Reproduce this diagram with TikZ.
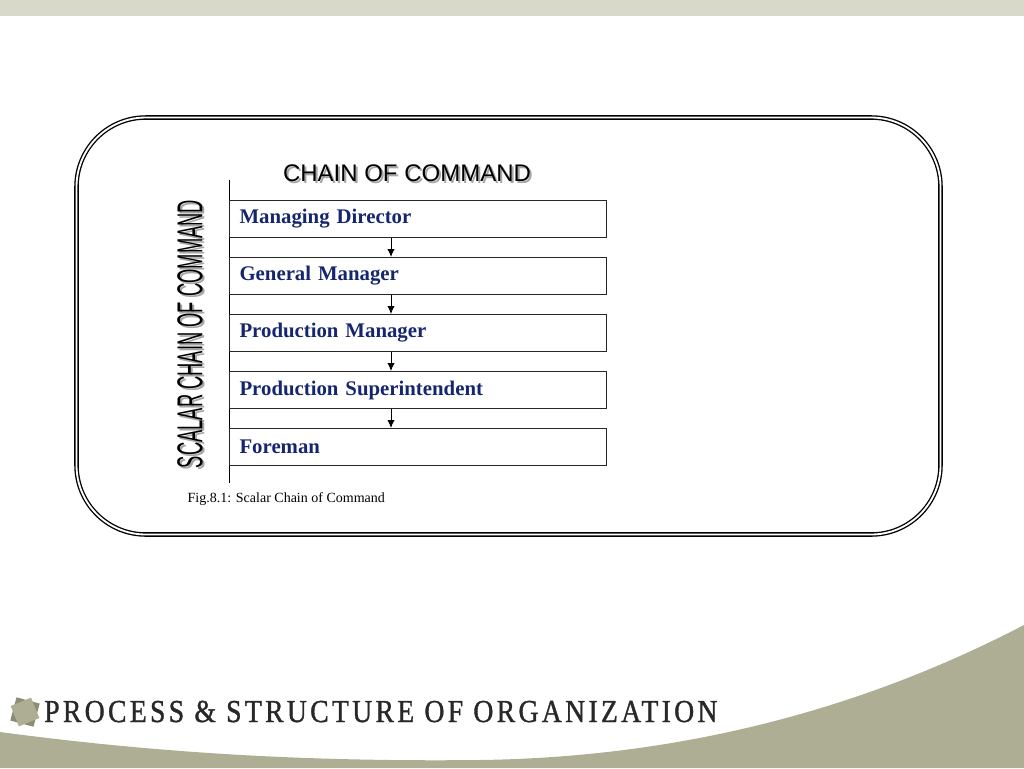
\documentclass[tikz,border=0pt]{standalone}
\usepackage{fontspec}
\setmainfont{Liberation Serif}
\setsansfont{Liberation Sans}
\newfontfamily\bannerfont[LetterSpace=12,FakeBold=1.2]{Liberation Serif}
\usepackage{tikz}
\usetikzlibrary{arrows.meta}

\definecolor{bandgrey}{RGB}{216,217,201}
\definecolor{olivegrey}{RGB}{173,174,148}
\definecolor{icondark}{RGB}{140,141,118}
\definecolor{chainblue}{RGB}{22,38,110}
\definecolor{bannertext}{RGB}{40,40,42}

\tikzset{
  rank/.style={draw=black!85, line width=0.8pt, anchor=north west,
    minimum height=27.75pt, text width=267.75pt, inner xsep=7.5pt,
    align=left, font=\fontsize{15.6}{18}\selectfont\bfseries, text=chainblue},
  arr/.style={-{Latex[length=6pt,width=5.5pt]}, line width=0.7pt}
}

\begin{document}
\begin{tikzpicture}[x=0.75pt,y=-0.75pt]
    \useasboundingbox (0,0) rectangle (1024,768);
    \fill[bandgrey](0,0)rectangle(1024,16);
    \fill[olivegrey](0,732)..controls(150,752)and(300,762)..(480,760)
      ..controls(700,757)and(880,700)..(1024,625)--(1024,768)--(0,768)--cycle;
    \draw[double,line width=1pt,double distance=1.4pt,rounded corners=52pt]
      (76.5,117.5)rectangle(940.5,534.5);
    % titles with shadow
    \node[text=black!35] (titleshadow) at (409,175)
      {\sffamily\fontsize{18}{20}\selectfont CHAIN OF COMMAND};
    \node (title) at (407,173)
      {\sffamily\fontsize{18}{20}\selectfont CHAIN OF COMMAND};
    \node[rotate=90,text=black!35] (sideshadow) at (192,336)
      {\sffamily\fontsize{27}{27}\selectfont\scalebox{0.51}[1]{SCALAR CHAIN OF COMMAND}};
    \node[rotate=90] (side) at (190,334)
      {\sffamily\fontsize{27}{27}\selectfont\scalebox{0.51}[1]{SCALAR CHAIN OF COMMAND}};
    % chain
    \coordinate (axtop) at (229,180);
    \coordinate (axbot) at (229,483);
    \draw[line width=0.7pt](axtop)--(axbot);
    \node[rank] (md) at (229,200) {Managing Director};
    \node[rank] (gm) at (229,257) {General Manager};
    \node[rank] (pm) at (229,314) {Production Manager};
    \node[rank] (ps) at (229,371) {Production Superintendent};
    \node[rank] (fm) at (229,428) {Foreman};
    \draw[arr]([xshift=121.5pt]md.south west)--([xshift=121.5pt]gm.north west);
    \draw[arr]([xshift=121.5pt]gm.south west)--([xshift=121.5pt]pm.north west);
    \draw[arr]([xshift=121.5pt]pm.south west)--([xshift=121.5pt]ps.north west);
    \draw[arr]([xshift=121.5pt]ps.south west)--([xshift=121.5pt]fm.north west);
    \node[anchor=base west] (caption) at (183,502)
      {\fontsize{10.5}{12}\selectfont Fig.8.1: Scalar Chain of Command};
    % footer
    \fill[icondark,rotate around={-15:(25,712)}](13,700)rectangle(37,724);
    \fill[olivegrey,rotate around={22:(25,712)}](14,701)rectangle(36,723);
    \node[anchor=base west,text=bannertext,inner sep=0pt] (banner) at (44,722)
      {\bannerfont\fontsize{24}{26}\selectfont\scalebox{0.865}[1]{PROCESS \& STRUCTURE OF ORGANIZATION}};
\end{tikzpicture}
\end{document}
